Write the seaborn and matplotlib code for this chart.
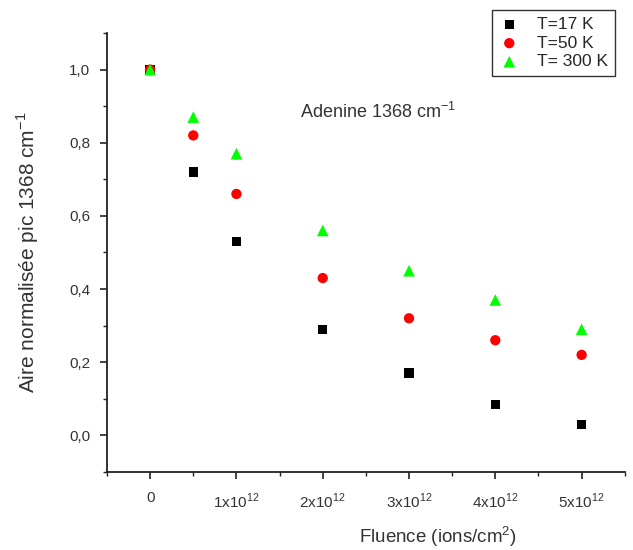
import numpy as np
import pandas as pd
import matplotlib
matplotlib.use('Agg')
import matplotlib.pyplot as plt
from matplotlib.ticker import MultipleLocator, FuncFormatter
import seaborn as sns

# data
fluence = [0, 0.5e12, 1e12, 2e12, 3e12, 4e12, 5e12]
t17 = [1.0, 0.72, 0.53, 0.29, 0.17, 0.085, 0.03]
t50 = [1.0, 0.82, 0.66, 0.43, 0.32, 0.26, 0.22]
t300 = [1.0, 0.87, 0.77, 0.56, 0.45, 0.37, 0.29]
series_labels = ['T=17 K', 'T=50 K', 'T= 300 K']

sns.set_style('ticks')
plt.rcParams['font.family'] = ['Liberation Sans', 'DejaVu Sans']
plt.rcParams['mathtext.fontset'] = 'custom'
plt.rcParams['mathtext.rm'] = 'Liberation Sans'

fig = plt.figure(figsize=(6.33, 5.5), dpi=100)
ax = fig.add_axes([0.169, 0.142, 0.818, 0.798])

styles = [('black', 's', 45), ('#FF0000', 'o', 55), ('#00FF00', '^', 70)]
for vals, lab, (col, mk, sz) in zip([t17, t50, t300], series_labels, styles):
    sns.scatterplot(x=fluence, y=vals, color=col, marker=mk, s=sz,
                    edgecolor='none', label=lab, ax=ax)

ax.set_xlim(-0.5e12, 5.5e12)
ax.set_ylim(-0.1, 1.1)
ax.xaxis.set_major_locator(MultipleLocator(1e12))
ax.xaxis.set_minor_locator(MultipleLocator(0.5e12))
ax.yaxis.set_major_locator(MultipleLocator(0.2))
ax.yaxis.set_minor_locator(MultipleLocator(0.1))


def fmt_x(v, pos):
    n = int(round(v / 1e12))
    if n == 0:
        return '0'
    return r'%dx10$^{12}$' % n


ax.xaxis.set_major_formatter(FuncFormatter(fmt_x))
ax.yaxis.set_major_formatter(FuncFormatter(lambda v, p: f'{v:.1f}'.replace('.', ',')))
ax.tick_params(which='major', length=5, width=1.2, labelsize=11, color='#222222',
               labelcolor='#333333')
ax.tick_params(axis='x', which='major', pad=9)
ax.tick_params(axis='y', which='major', pad=7)
ax.tick_params(which='minor', length=3, width=1.0, color='#222222')

ax.spines[['top', 'right']].set_visible(False)
for sp in ['left', 'bottom']:
    ax.spines[sp].set_linewidth(1.3)
    ax.spines[sp].set_color('#222222')

ax.set_xlabel(r'Fluence (ions/cm$^{2}$)', fontsize=13.5, color='#333333')
ax.xaxis.set_label_coords(0.64, -0.12)
ax.set_ylabel(r'Aire normalisée pic 1368 cm$^{-1}$', fontsize=15, color='#333333',
              labelpad=20)
ax.text(0.373, 0.82, r'Adenine 1368 cm$^{-1}$', transform=ax.transAxes,
        fontsize=13, color='#333333', va='center', ha='left')

leg = ax.legend(loc='upper right', bbox_to_anchor=(615 / 633, 1 - 10 / 550),
                bbox_transform=fig.transFigure, frameon=True, fancybox=False,
                borderaxespad=0, fontsize=12.5, handlelength=1.2,
                handletextpad=1.0, borderpad=0.4, labelspacing=0.2,
                markerscale=1.0)
leg.get_frame().set_edgecolor('black')
leg.get_frame().set_linewidth(1.0)

fig.savefig('out.png', dpi=100, facecolor='white')
